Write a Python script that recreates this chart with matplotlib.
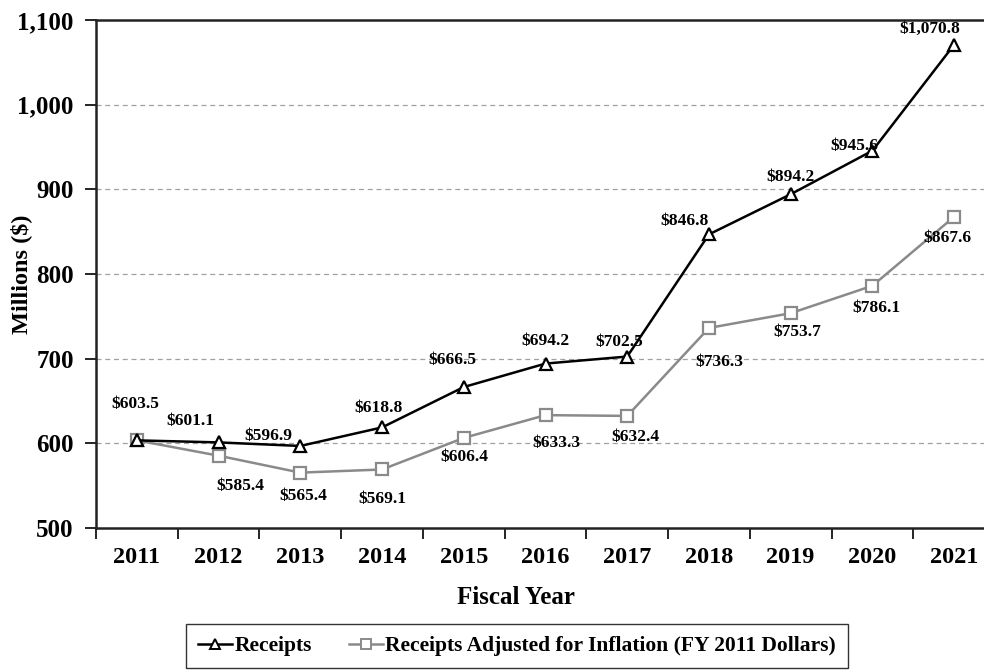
import matplotlib
matplotlib.use("Agg")
from matplotlib import pyplot as plt
from matplotlib.lines import Line2D

years = ['2011', '2012', '2013', '2014', '2015', '2016', '2017', '2018', '2019', '2020', '2021']
receipts = [603.5, 601.1, 596.9, 618.8, 666.5, 694.2, 702.5, 846.8, 894.2, 945.6, 1070.8]
adjusted = [603.5, 585.4, 565.4, 569.1, 606.4, 633.3, 632.4, 736.3, 753.7, 786.1, 867.6]

# label offsets in pixels (dx, dy)
receipt_offsets = [(-2, 36), (-28, 21), (-32, 10), (-3, 19), (-11, 27), (0, 23), (-8, 15),
                   (-24, 13), (0, 17), (-18, 5), (-24, 16)]
adjusted_offsets = [None, (22, -30), (3, -23), (0, -30), (1, -19), (11, -28), (8, -21),
                    (10, -34), (7, -19), (4, -22), (-7, -21)]

plt.rcParams['font.family'] = 'Liberation Serif'
plt.rcParams['font.weight'] = 'bold'

fig = plt.figure(figsize=(9.84, 6.71), dpi=100)
ax = fig.add_axes([96 / 984, 1 - 528 / 671, 899 / 984, 508 / 671])

x = list(range(len(years)))
ax.plot(x, receipts, color='black', linewidth=1.8, marker='^', markersize=9,
        markerfacecolor='white', markeredgecolor='black', markeredgewidth=1.6, zorder=4)
ax.plot(x, adjusted, color='#8a8a8a', linewidth=1.8, marker='s', markersize=9,
        markerfacecolor='white', markeredgecolor='#8a8a8a', markeredgewidth=1.6, zorder=3)

for i, v in enumerate(receipts):
    dx, dy = receipt_offsets[i]
    ax.annotate(f'${v:,.1f}', (i, v), xytext=(dx, dy), textcoords='offset pixels',
                ha='center', va='center', fontsize=12.5, fontweight='bold', zorder=5)
for i, v in enumerate(adjusted):
    if adjusted_offsets[i] is None:
        continue
    dx, dy = adjusted_offsets[i]
    ax.annotate(f'${v:,.1f}', (i, v), xytext=(dx, dy), textcoords='offset pixels',
                ha='center', va='center', fontsize=12.5, fontweight='bold', zorder=5)

ax.set_xlim(-0.5, len(years) - 0.5)
ax.set_ylim(500, 1100)
ax.set_yticks(range(500, 1101, 100))
ax.set_yticklabels([f'{t:,}' for t in range(500, 1101, 100)])
ax.set_xticks(x)
ax.set_xticklabels(years)
ax.set_xticks([i - 0.5 for i in range(len(years) + 1)], minor=True)
ax.tick_params(axis='x', which='major', length=0, pad=14, labelsize=17.5)
ax.tick_params(axis='x', which='minor', length=8, width=1.2, direction='out')
ax.tick_params(axis='y', which='major', length=8, width=1.2, direction='out', labelsize=18, pad=8)

for t in [600, 700, 800, 900, 1000]:
    ax.axhline(t, color='#a0a0a0', linewidth=0.9, linestyle=(0, (4, 3)), zorder=1)

for s in ['left', 'bottom', 'top']:
    ax.spines[s].set_linewidth(1.8)
    ax.spines[s].set_color('#222222')
ax.spines['right'].set_visible(False)

ax.set_ylabel('Millions ($)', fontsize=17.5, fontweight='bold')
ax.yaxis.set_label_coords(-64 / 899, 0.5)
fig.text(516 / 984, 1 - 597 / 671, 'Fiscal Year', ha='center', va='center',
         fontsize=18, fontweight='bold')

handles = [
    Line2D([], [], color='black', linewidth=1.8, marker='^', markersize=7,
           markerfacecolor='white', markeredgecolor='black', markeredgewidth=1.4),
    Line2D([], [], color='#8a8a8a', linewidth=1.8, marker='s', markersize=7,
           markerfacecolor='white', markeredgecolor='#8a8a8a', markeredgewidth=1.4),
]
leg = fig.legend(handles, ['Receipts', 'Receipts Adjusted for Inflation (FY 2011 Dollars)'],
                 loc='center', bbox_to_anchor=(517 / 984, 1 - 646 / 671), ncol=2,
                 frameon=True, fancybox=False, handlelength=1.6, handletextpad=0.1,
                 columnspacing=1.7, prop={'size': 15.5, 'weight': 'bold'},
                 borderpad=0.55)
leg.get_frame().set_edgecolor('black')
leg.get_frame().set_linewidth(1.0)

fig.savefig('out.png', dpi=100)
